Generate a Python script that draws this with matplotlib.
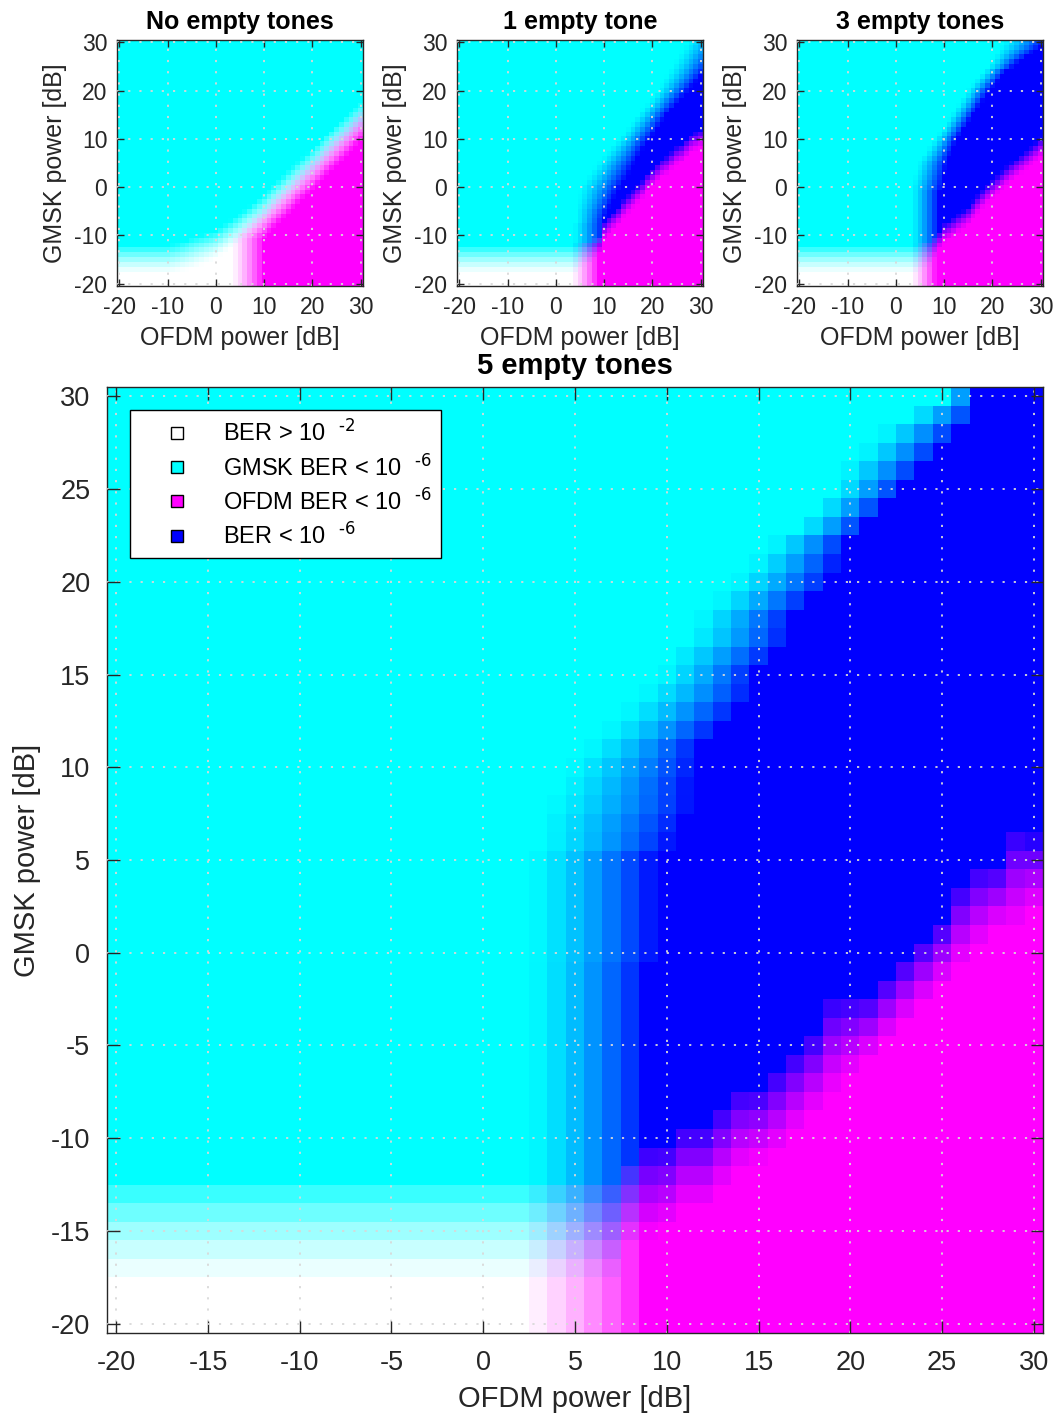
import numpy as np
import matplotlib
matplotlib.use("Agg")
import matplotlib.pyplot as plt
from matplotlib.lines import Line2D

plt.rcParams['font.family'] = ['Liberation Sans', 'DejaVu Sans']
plt.rcParams['mathtext.default'] = 'regular'
plt.rcParams['axes.unicode_minus'] = False

# Сетка мощностей (дБ)
OFDM_DB = list(range(-20, 31))
GMSK_DB = list(range(-20, 31))

# Форма перехода доли успешных пакетов
GAMMA = 1.4

# --- No empty tones ---
# по строкам (GMSK): где OFDM начинает / заканчивает переход к BER < 1e-6
O0_LO = [3] * 10 + [3.5, 4.5, 5.5, 6.5, 7.5, 8.5, 9.5, 10.5, 11.5, 12.5, 13.5, 14.5, 15.5, 16.5,
                    17.5, 18.5, 19.5, 20.5, 21.5, 22.5, 23.5, 24.5, 25.5, 26.5, 27.5, 28.5, 29.5,
                    30.5, 31.5, 32.5, 33.5, 34.5, 35.5, 36.5, 37.5, 38.5, 39.5, 40.5, 41.5, 42.5,
                    43.5]
O0_HI = [10] * 10 + [10.5, 11.5, 12.5, 13.5, 14.5, 15.5, 16.5, 17.5, 18.5, 19.5, 20.5, 21.5, 22.5,
                     23.5, 24.5, 25.5, 26.5, 27.5, 28.5, 29.5, 30.5, 31.5, 32.5, 33.5, 34.5, 35.5,
                     36.5, 37.5, 38.5, 39.5, 40.5, 41.5, 42.5, 43.5, 44.5, 45.5, 46.5, 47.5, 48.5,
                     49.5, 50.5]
# по столбцам (OFDM): где GMSK начинает / заканчивает переход
G0_LO = [-18] * 11 + [-17.8, -17.6, -17.4, -17.2, -17, -16.6, -16.2, -15.8, -15.4, -15, -14.3, -13.6,
                      -12.9, -12.2, -11.5, -10.7, -9.9, -9.1, -8.3, -7.5, -6.5, -5.5, -4.5, -3.5,
                      -2.5, -1.6, -0.7, 0.2, 1.1, 2, 3, 4, 5, 6, 7, 7.9, 8.8, 9.7, 10.6, 11.5]
G0_HI = [-12] * 11 + [-11.8, -11.6, -11.3, -11, -10.5, -10.2, -9.9, -9.6, -9.3, -9, -8.3, -7.6, -6.9,
                      -6.2, -5.5, -4.7, -3.9, -3.1, -2.3, -1.5, -0.5, 0.5, 1.5, 2.5, 3.5, 4.4, 5.3,
                      6.2, 7.1, 8, 9, 10, 11, 12, 13, 13.9, 14.8, 15.7, 16.6, 17.5]

# --- 1 empty tone ---
O1_LO = [3] * 9 + [3.5, 3.5, 3.5, 3.5, 4, 4, 4, 4.2, 4.4, 4.6, 4.8, 5, 5.7, 6.4, 7.1, 7.8, 8.5, 9.4,
                   10.3, 11.2, 12.1, 13, 13.8, 14.6, 15.4, 16.2, 17, 17.8, 18.6, 19.4, 20.2, 21,
                   21.6, 22.2, 22.8, 23.4, 24, 24.6, 25.2, 25.8, 26.4, 27]
O1_HI = [9] * 9 + [10, 10, 10, 10, 10, 10.3, 10.6, 11.2, 11.7, 12.3, 12.8, 13.4, 14, 14.6, 15.2,
                   15.7, 16.3, 16.9, 17.5, 18.1, 18.8, 19.5, 20.2, 20.9, 21.6, 22.3, 23, 23.9,
                   24.8, 25.6, 26.5, 27.4, 28.3, 29.2, 30.1, 31, 32, 32.8, 33.6, 34.4, 35.2, 36]
G1_LO = [-18] * 25 + [-17, -16.5, -16, -15, -14, -11, -10, -9, -8, -6.5, -5.5, -4.5, -3.5, -2.5,
                      -1, 0, 1, 2, 2.5, 3.5, 4.5, 5, 6, 7, 7.5, 8]
G1_HI = [-12] * 25 + [-11.5, -11, -11, -10.5, -10, -7, -6, -5, -4, -2.5, -1.5, -0.5, 0.5, 1.5,
                      3, 4, 5, 6, 6.5, 7.5, 8.5, 9, 10, 11, 11.5, 12]

# --- 3 empty tones ---
O3_LO = [3] * 21 + [3.3, 3.6, 3.9, 4.2, 4.5, 5.2, 5.9, 6.6, 7.3, 8, 8.7, 9.4, 10.1, 10.8, 11.5,
                    12.1, 12.8, 13.4, 14.1, 14.7, 15.6, 16.4, 17.3, 18.1, 19, 19.6, 20.2, 20.8,
                    21.4, 22]
O3_HI = [8.5] * 9 + [9] * 11 + [9.5, 9.7, 9.9, 10.1, 10.3, 10.5, 10.9, 11.4, 11.8, 12.3, 12.7, 13.4,
                                14, 14.7, 15.3, 16, 16.7, 17.4, 18.1, 18.8, 19.5, 20.3, 21.1, 21.9,
                                22.7, 24.4, 25.5, 27, 28.5, 30, 31]
G3_LO = [-18] * 25 + [-17.5, -17, -16.5, -15, -13, -11.4, -11, -10.3, -9.5, -8.8, -8, -6.8, -5.6,
                      -4.5, -3.4, -2.4, -1.5, -0.6, 0.3, 1.2, 2, 2.8, 3.6, 4.4, 5.2, 6.1]
G3_HI = [-12] * 25 + [-11.5, -11, -11, -10, -9, -7.4, -7, -6.3, -5.5, -4.8, -4, -2.8, -1.6, -0.5,
                      0.6, 1.6, 2.5, 3.4, 4.3, 5.2, 6, 6.8, 7.6, 8.4, 9.2, 10.1]

# --- 5 empty tones ---
O5_LO = [2] * 8 + [2.5] * 18 + [3, 3, 3.5, 4, 4.5, 5.5, 6.5, 7.5, 8.5, 9.5, 10, 11, 11.5, 12.5,
                                13.5, 14.5, 15.5, 17, 18, 19, 19.5, 20.5, 21.5, 23, 25]
O5_HI = [9] * 20 + [9.5] * 6 + [10.5, 11, 11.5, 11.5, 11.8, 12, 13, 14, 14.8, 15, 16, 16.8, 17, 18,
                                19, 19.5, 20, 21, 22, 23, 24, 25, 26, 27, 27]
G5_LO = [-18] * 28 + [-16, -15.5, -15, -14, -14, -13, -12, -11.5, -11, -10, -9, -8, -7, -6, -5,
                      -4, -3, -2, -1, 0, 1, 1, 2]
G5_HI = [-12] * 28 + [-11, -10, -10, -9, -9, -8, -7, -7, -6, -5, -4, -2, -2, -2, -1, 0, 1, 2, 4,
                      5, 5, 7, 6.5]

TITLES = ['No empty tones', '1 empty tone', '3 empty tones', '5 empty tones']
LEGEND_LABELS = [r'BER > 10  $^{\text{-2}}$', r'GMSK BER < 10  $^{\text{-6}}$',
                 r'OFDM BER < 10  $^{\text{-6}}$', r'BER < 10  $^{\text{-6}}$']
LEGEND_COLORS = ['white', 'cyan', 'magenta', 'blue']


def build_image(o_lo, o_hi, g_lo, g_hi):
    """RGB: R = 1 - успех GMSK, G = 1 - успех OFDM, B = 1."""
    x = np.array(OFDM_DB, dtype=float)[None, :]
    y = np.array(GMSK_DB, dtype=float)[:, None]
    o_lo = np.array(o_lo, dtype=float)[:, None]
    o_hi = np.array(o_hi, dtype=float)[:, None]
    g_lo = np.array(g_lo, dtype=float)[None, :]
    g_hi = np.array(g_hi, dtype=float)[None, :]
    o = np.clip((x - o_lo) / (o_hi - o_lo), 0, 1) ** GAMMA
    g = np.clip((y - g_lo) / (g_hi - g_lo), 0, 1) ** GAMMA
    return np.dstack([1 - g, 1 - o, np.ones_like(g * o)])


def draw(ax, img, ticks, tick_fs, label_fs, title, title_fs, tlen, pad, lpad, title_pad):
    ext = [OFDM_DB[0] - 0.5, OFDM_DB[-1] + 0.5, GMSK_DB[0] - 0.5, GMSK_DB[-1] + 0.5]
    ax.imshow(img, origin='lower', extent=ext, aspect='auto', interpolation='nearest')
    ax.set_xlim(ext[0], ext[1])
    ax.set_ylim(ext[2], ext[3])
    ax.set_xticks(ticks)
    ax.set_yticks(ticks)
    ax.grid(True, linestyle=(0, (1.2, 5)), color='0.85', linewidth=1.3)
    ax.set_axisbelow(False)
    ax.tick_params(direction='in', top=True, right=True, length=tlen, width=1,
                   labelsize=tick_fs, pad=pad, color='0.15', labelcolor='0.15')
    for s in ax.spines.values():
        s.set_color('0.15')
        s.set_linewidth(1)
    ax.set_xlabel('OFDM power [dB]', fontsize=label_fs, color='0.15', labelpad=lpad)
    ax.set_ylabel('GMSK power [dB]', fontsize=label_fs, color='0.15', labelpad=lpad)
    ax.set_title(title, fontsize=title_fs, fontweight='bold', pad=title_pad)


fig = plt.figure(figsize=(10.58, 14.18), dpi=100)
W, H = 1058, 1418

small = [(O0_LO, O0_HI, G0_LO, G0_HI), (O1_LO, O1_HI, G1_LO, G1_HI), (O3_LO, O3_HI, G3_LO, G3_HI)]
lefts = [117, 457, 797]
for i, (d, l) in enumerate(zip(small, lefts)):
    ax = fig.add_axes([l / W, 1 - 286 / H, 246 / W, 246 / H])
    draw(ax, build_image(*d), [-20, -10, 0, 10, 20, 30], 16.5, 18, TITLES[i], 18, 5, 7, 5, 8)

axb = fig.add_axes([107 / W, 1 - 1333 / H, 936 / W, 946 / H])
draw(axb, build_image(O5_LO, O5_HI, G5_LO, G5_HI), list(range(-20, 31, 5)),
     19.5, 21, TITLES[3], 21, 9, 12, 7, 9)

handles = [Line2D([], [], marker='s', linestyle='none', markersize=9,
                  markerfacecolor=c, markeredgecolor='black', markeredgewidth=1)
           for c in LEGEND_COLORS]
leg = axb.legend(handles, LEGEND_LABELS, loc='upper left', bbox_to_anchor=(0.0246, 0.9757),
                 borderaxespad=0, fontsize=17, handlelength=3.2, handletextpad=0.35,
                 labelspacing=0.33, borderpad=0.4, fancybox=False, framealpha=1,
                 edgecolor='black')
leg.get_frame().set_linewidth(1)

fig.savefig('out.png', dpi=100)
